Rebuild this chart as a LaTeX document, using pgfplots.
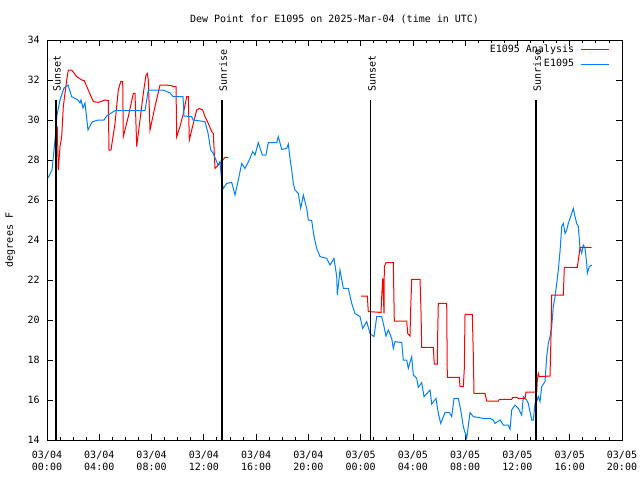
\documentclass[border=0pt]{standalone}
\usepackage{fontspec}
\setmainfont{DejaVu Sans Mono}
\usepackage{pgfplots}
\pgfplotsset{compat=1.18}

\definecolor{obsblue}{RGB}{0,128,255}
\newcommand\gfont{\fontsize{7.5}{9}\selectfont}

\begin{document}
\begin{tikzpicture}
\begin{axis}[
    scale only axis,
    width=431.25pt, height=300pt,
    xmin=0, xmax=44, ymin=14, ymax=34,
    xtick={0,4,...,44},
    xticklabels={03/04\\00:00,03/04\\04:00,03/04\\08:00,03/04\\12:00,03/04\\16:00,03/04\\20:00,
                 03/05\\00:00,03/05\\04:00,03/05\\08:00,03/05\\12:00,03/05\\16:00,03/05\\20:00},
    minor x tick num=3,
    ytick={14,16,...,34},
    tick align=inside,
    major tick length=4.5pt, minor tick length=2.25pt,
    axis line style={line width=0.75pt},
    every tick/.style={black, line width=0.6pt},
    /pgf/number format/assume math mode=true,
    xticklabel style={font=\gfont, align=center, anchor=center, inner sep=0pt, yshift=-15.75pt},
    yticklabel style={font=\gfont, anchor=east, inner sep=0pt, xshift=-5.25pt},
    title={Dew Point for E1095 on 2025-Mar-04 (time in UTC)},
    every axis title shift=0pt,
    title style={font=\gfont, at={(rel axis cs:0.5,1.0525)}, anchor=center, inner sep=0pt},
    ylabel={degrees F},
    ylabel style={font=\gfont, at={(rel axis cs:-0.0643,0.5)}, anchor=center, rotate=0, inner sep=0pt},
    legend plot pos=right,
    legend cell align=right,
    legend style={font=\gfont, draw=none, fill=none, at={(rel axis cs:0.978,0.99)}, anchor=north east,
                  row sep=3pt, inner sep=0pt,
                  nodes={inner sep=0.5pt, text height=5.5pt, text depth=1.5pt}},
    legend image code/.code={\path (0pt,0pt); \draw[#1] (4pt,0pt) -- (25pt,0pt);},
    clip=false,
]

\addplot[red, line width=0.75pt] coordinates {
(0.666,30.0) (0.689,29.0) (0.788,29.67) (0.865,27.5) (0.995,28.67) (1.125,29.17)
(1.247,30.67) (1.507,32.0) (1.630,32.5) (1.890,32.5) (2.273,32.17) (2.655,32.0)
(2.854,31.97) (3.160,31.5) (3.543,30.92) (3.926,30.88) (4.438,31.0) (4.691,30.97)
(4.744,28.5) (4.897,28.5) (5.204,29.83) (5.456,31.5) (5.640,31.92) (5.793,31.92)
(5.839,29.17) (6.221,30.17) (6.604,31.33) (6.734,31.33) (6.864,28.67) (7.117,30.0)
(7.369,31.33) (7.576,32.25) (7.675,32.33) (7.752,32.0) (7.882,29.5) (8.264,30.67)
(8.647,31.75) (9.030,31.75) (9.542,31.72) (9.665,31.67) (9.871,31.67) (9.925,29.17)
(10.177,29.67) (10.430,30.33) (10.690,31.17) (10.812,31.17) (10.889,29.0) (11.195,29.83)
(11.455,30.5) (11.654,30.58) (11.915,30.5) (12.091,30.17) (12.343,29.83) (12.603,29.42)
(12.726,29.33) (12.856,27.58) (13.238,27.83) (13.621,28.13) (13.874,28.13)
};
\addlegendentry{E1095 Analysis}

\addplot[obsblue, line width=0.75pt] coordinates {
(0.077,27.1) (0.383,27.5) (0.612,29.0) (0.765,30.25) (0.995,31.0) (1.301,31.6)
(1.607,31.75) (1.890,31.17) (2.372,31.0) (2.525,30.85) (2.602,31.0) (2.755,30.6)
(2.908,30.85) (3.137,29.5) (3.443,29.9) (3.903,30.0) (4.362,30.0) (4.568,30.2)
(5.204,30.47) (7.499,30.47) (7.752,31.5) (8.877,31.5) (9.412,31.35) (9.642,31.17)
(10.407,31.17) (10.484,30.2) (11.073,30.17) (11.172,30.0) (12.091,29.92) (12.320,29.35)
(12.527,28.5) (12.703,28.35) (12.932,28.0) (13.085,27.75) (13.238,27.92) (13.368,26.92)
(13.491,26.58) (13.751,26.83) (14.134,26.88) (14.386,26.25) (14.639,27.0) (14.899,27.83)
(15.152,27.58) (15.534,28.08) (15.741,28.42) (15.917,28.25) (16.169,28.87) (16.475,28.25)
(16.758,28.25) (16.934,28.87) (17.577,28.87) (17.700,29.17) (17.960,28.53) (18.343,28.58)
(18.465,28.8) (18.595,28.08) (18.725,27.5) (18.848,26.83) (18.978,26.5) (19.230,26.33)
(19.414,25.58) (19.613,26.25) (19.873,25.58) (19.996,25.0) (20.256,24.97) (20.432,24.17)
(20.638,23.58) (20.891,23.17) (21.404,23.08) (21.656,22.75) (21.962,23.08) (22.169,22.17)
(22.215,21.25) (22.421,22.5) (22.674,21.58) (23.056,21.58) (23.317,20.83) (23.569,20.33)
(23.952,20.17) (24.158,19.58) (24.464,19.92) (24.717,19.33) (25.023,19.17) (25.230,20.17)
(25.612,20.17) (25.735,19.83) (25.941,19.2) (26.117,19.5) (26.377,19.08) (26.500,18.58)
(26.630,18.92) (27.143,18.87) (27.265,18.0) (27.525,18.0) (27.648,17.58) (27.908,18.17)
(28.030,17.25) (28.290,17.08) (28.413,16.63) (28.673,16.87) (28.849,16.17) (29.308,16.5)
(29.438,15.8) (29.767,16.08) (29.943,15.33) (30.127,14.83) (30.456,15.37) (30.785,15.37)
(30.969,15.17) (31.145,16.08) (31.474,16.08) (31.658,15.5) (31.857,14.67) (32.117,14.08)
(32.369,15.37) (32.622,15.17) (33.387,15.08) (33.900,15.08) (34.152,15.0) (34.282,14.83)
(34.665,15.0) (34.917,14.75) (35.300,14.75) (35.430,14.53) (35.560,15.5) (35.813,15.75)
(36.065,15.58) (36.325,15.25) (36.448,16.17) (36.708,16.0) (36.830,15.83) (37.090,15.0)
(37.213,15.0) (37.343,15.83) (37.473,15.92) (37.595,16.17) (37.726,15.92) (37.856,16.67)
(38.108,16.92) (38.238,18.17) (38.361,18.83) (38.491,19.17) (38.621,19.67) (38.743,20.67)
(38.874,21.17) (39.004,21.83) (39.126,22.5) (39.256,23.42) (39.386,24.67) (39.509,24.83)
(39.639,24.33) (39.769,24.5) (39.891,24.83) (40.021,25.08) (40.151,25.33) (40.274,25.58)
(40.404,25.17) (40.534,24.83) (40.656,24.67) (40.787,23.58) (40.917,23.33) (41.039,23.75)
(41.169,23.58) (41.299,22.83) (41.345,22.33) (41.498,22.67) (41.682,22.75)
};
\addlegendentry{E1095}

\addplot[red, line width=0.75pt, forget plot] coordinates {
(24.028,21.2) (24.510,21.2) (24.587,20.42) (25.559,20.38) (25.612,21.17) (25.689,22.08)
(25.788,20.33) (25.811,22.67) (25.941,22.87) (26.500,22.87) (26.576,19.95) (27.525,19.95)
(27.602,19.33) (27.778,19.2) (27.831,20.58) (27.908,22.03) (28.543,22.03) (28.620,20.42)
(28.673,18.63) (29.561,18.63) (29.637,17.8) (29.867,17.8) (29.897,19.33) (29.943,20.83)
(30.586,20.83) (30.632,17.13) (31.550,17.13) (31.604,16.67) (31.857,16.67) (31.934,17.58)
(31.987,20.28) (32.545,20.28) (32.622,18.25) (32.675,16.33) (33.517,16.33) (33.647,15.95)
(34.535,15.95) (34.611,16.03) (35.560,16.03) (35.636,16.13) (35.943,16.13) (36.065,16.08)
(36.578,16.08) (36.654,16.4) (37.473,16.4) (37.519,17.0) (37.595,17.33) (37.672,17.17)
(38.491,17.2) (38.567,19.17) (38.621,21.25) (39.509,21.25) (39.585,22.63) (40.580,22.63)
(40.656,23.0) (40.733,23.33) (40.787,23.63) (41.682,23.63)
};

% sunset / sunrise markers
\addplot[black, line width=0.8pt, forget plot] coordinates {(0.69,14) (0.69,31)};
\addplot[black, line width=0.8pt, forget plot] coordinates {(13.39,14) (13.39,31)};
\addplot[black, line width=0.8pt, forget plot] coordinates {(24.79,14) (24.79,31)};
\addplot[black, line width=0.8pt, forget plot] coordinates {(37.42,14) (37.42,31)};
\node[font=\gfont, rotate=90, anchor=west, inner sep=0pt] at (axis cs:0.77,31.4) {Sunset};
\node[font=\gfont, rotate=90, anchor=west, inner sep=0pt] at (axis cs:13.47,31.4) {Sunrise};
\node[font=\gfont, rotate=90, anchor=west, inner sep=0pt] at (axis cs:24.87,31.4) {Sunset};
\node[font=\gfont, rotate=90, anchor=west, inner sep=0pt] at (axis cs:37.50,31.4) {Sunrise};
\end{axis}
\pgfresetboundingbox
\path ([xshift=-35.25pt,yshift=-30pt]current axis.south west) rectangle ([xshift=13.5pt,yshift=30pt]current axis.north east);
\end{tikzpicture}
\end{document}
